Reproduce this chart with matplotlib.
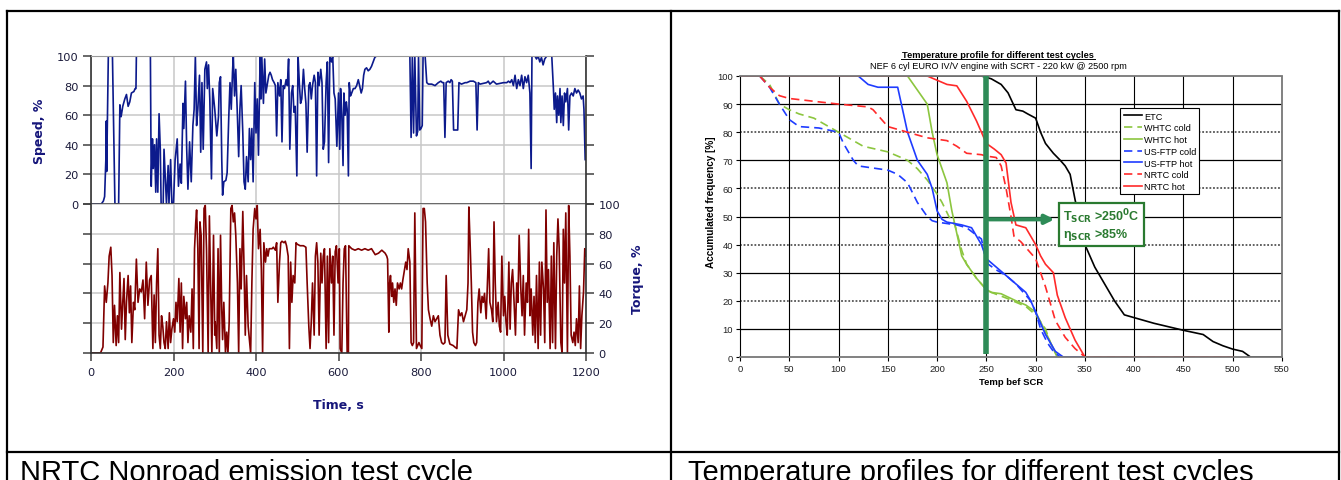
import matplotlib
matplotlib.use('Agg')
import matplotlib.pyplot as plt
from matplotlib.lines import Line2D

# ---- left chart: NRTC cycle, (time s, %) ----
SPEED_TRACE = [
    (0, 0), (25, 0), (30, 2), (33, 5), (36, 30), (37, 56), (38, 22), (40, 60), (42, 100), (52, 100),
    (58, 0), (67, 0), (70, 67), (73, 59), (77, 66), (82, 71), (86, 74), (90, 66), (94, 69), (98, 75),
    (104, 76), (107, 78), (109, 78), (110, 100), (144, 100), (146, 12), (149, 44), (151, 24), (154, 40),
    (157, 8), (159, 44), (162, 8), (165, 61), (168, 37), (170, 0), (175, 0), (177, 37), (180, 19), (183, 0),
    (187, 26), (189, 0), (193, 30), (196, 0), (200, 1), (204, 30), (209, 44), (212, 12), (216, 27), (219, 14),
    (223, 68), (225, 51), (229, 83), (232, 37), (235, 10), (239, 42), (243, 15), (247, 53), (250, 64),
    (253, 100), (256, 53), (259, 64), (263, 87), (266, 35), (269, 82), (272, 37), (276, 91), (280, 96),
    (282, 78), (285, 94), (288, 71), (292, 17), (295, 78), (300, 64), (305, 46), (309, 59), (311, 82),
    (314, 86), (317, 30), (319, 6), (322, 15), (327, 16), (330, 21), (334, 59), (337, 82), (340, 64),
    (343, 89), (345, 100), (348, 73), (351, 91), (355, 59), (358, 32), (361, 64), (364, 80), (368, 48),
    (371, 15), (374, 10), (377, 32), (381, 15), (384, 51), (387, 30), (390, 51), (393, 15), (397, 82),
    (400, 48), (403, 71), (406, 33), (410, 100), (412, 71), (414, 100), (418, 68), (421, 98), (424, 75),
    (427, 80), (431, 87), (434, 89), (437, 87), (440, 84), (444, 82), (447, 80), (450, 46), (453, 82),
    (457, 73), (460, 84), (463, 42), (466, 80), (469, 78), (473, 84), (476, 80), (479, 98), (482, 37),
    (486, 75), (489, 80), (492, 62), (495, 66), (499, 19), (502, 100), (505, 82), (508, 68), (511, 71),
    (515, 91), (518, 78), (521, 68), (524, 35), (528, 80), (531, 82), (534, 71), (537, 80), (541, 87),
    (544, 82), (547, 19), (550, 89), (553, 80), (557, 91), (560, 82), (563, 37), (566, 42), (570, 82),
    (573, 96), (576, 28), (579, 100), (583, 96), (586, 100), (589, 75), (592, 71), (596, 39), (600, 75),
    (603, 37), (605, 78), (608, 60), (611, 26), (613, 75), (616, 60), (619, 69), (621, 64), (624, 19),
    (626, 82), (629, 73), (632, 75), (636, 78), (640, 78), (644, 80), (648, 84), (651, 80), (655, 75),
    (658, 78), (661, 87), (664, 91), (668, 92), (672, 90), (676, 91), (680, 93), (684, 96), (688, 99),
    (692, 100), (773, 100), (776, 45), (779, 100), (782, 48), (785, 100), (789, 46), (792, 49), (794, 100),
    (797, 50), (800, 51), (803, 53), (805, 100), (810, 100), (814, 82), (818, 81), (826, 81), (834, 80),
    (842, 82), (848, 83), (852, 82), (855, 82), (858, 45), (861, 82), (866, 83), (870, 82), (873, 84),
    (876, 83), (879, 50), (889, 50), (892, 82), (898, 81), (907, 82), (911, 82), (919, 83), (927, 83),
    (933, 82), (936, 50), (939, 82), (943, 81), (959, 82), (963, 83), (967, 81), (975, 83), (983, 81),
    (1000, 82), (1008, 82), (1012, 83), (1016, 82), (1020, 84), (1024, 80), (1028, 87), (1032, 78),
    (1036, 84), (1040, 80), (1044, 87), (1048, 78), (1052, 86), (1056, 82), (1060, 87), (1064, 75),
    (1067, 24), (1069, 100), (1076, 100), (1080, 98), (1084, 100), (1088, 96), (1092, 99), (1096, 94),
    (1100, 98), (1105, 100), (1117, 100), (1121, 78), (1123, 64), (1126, 75), (1129, 55), (1131, 73),
    (1134, 60), (1137, 78), (1139, 55), (1142, 73), (1145, 53), (1148, 75), (1151, 69), (1155, 78),
    (1158, 50), (1161, 73), (1165, 75), (1169, 73), (1173, 78), (1177, 75), (1181, 77), (1185, 75),
    (1189, 71), (1193, 73), (1195, 64), (1198, 30),
]

TORQUE_TRACE = [
    (0, 0), (17, 0), (23, 0), (29, 4), (33, 45), (37, 34), (41, 47), (44, 65), (48, 71), (51, 52), (54, 7),
    (57, 32), (61, 5), (64, 25), (67, 7), (70, 54), (74, 16), (77, 34), (80, 50), (83, 9), (86, 34), (90, 52),
    (93, 27), (96, 45), (99, 7), (103, 34), (106, 29), (110, 63), (114, 34), (118, 43), (122, 41), (126, 49),
    (130, 23), (134, 61), (138, 32), (142, 49), (146, 52), (150, 3), (153, 39), (156, 7), (159, 47), (162, 70),
    (165, 12), (168, 3), (171, 25), (174, 18), (177, 7), (180, 3), (183, 21), (187, 3), (190, 27), (193, 7),
    (196, 16), (200, 23), (203, 14), (206, 34), (209, 21), (213, 50), (216, 14), (219, 47), (222, 3),
    (225, 38), (229, 23), (232, 34), (235, 7), (238, 25), (242, 14), (245, 43), (248, 3), (251, 70),
    (254, 88), (256, 96), (259, 70), (262, 3), (264, 88), (267, 79), (271, 0), (274, 97), (277, 99),
    (280, 70), (284, 0), (287, 92), (290, 47), (293, 0), (297, 79), (300, 12), (301, 21), (305, 3), (308, 70),
    (311, 0), (314, 79), (317, 29), (319, 9), (322, 34), (326, 0), (329, 14), (332, 0), (335, 21), (339, 97),
    (342, 99), (345, 88), (348, 94), (351, 79), (355, 47), (358, 0), (361, 70), (364, 43), (368, 95),
    (371, 58), (374, 12), (377, 52), (381, 18), (384, 9), (387, 0), (390, 47), (393, 83), (397, 97),
    (400, 90), (403, 99), (406, 70), (410, 83), (413, 56), (416, 0), (419, 74), (423, 61), (426, 70),
    (429, 65), (432, 70), (439, 70), (442, 71), (447, 69), (450, 74), (453, 34), (457, 61), (460, 74),
    (463, 75), (468, 74), (471, 75), (474, 72), (478, 65), (481, 3), (484, 61), (487, 34), (490, 52),
    (494, 47), (497, 74), (500, 73), (507, 72), (515, 72), (521, 71), (524, 47), (528, 18), (531, 3),
    (534, 21), (537, 47), (541, 12), (544, 65), (547, 74), (550, 61), (553, 12), (557, 67), (560, 47),
    (563, 65), (566, 70), (570, 3), (573, 65), (576, 7), (579, 70), (583, 47), (586, 65), (589, 12),
    (592, 68), (595, 72), (599, 47), (602, 70), (604, 3), (608, 0), (611, 47), (614, 70), (617, 72),
    (621, 0), (624, 0), (625, 72), (632, 70), (640, 69), (648, 70), (656, 69), (664, 70), (672, 69),
    (680, 70), (689, 66), (697, 67), (705, 69), (713, 67), (717, 65), (719, 63), (722, 14), (724, 47),
    (726, 52), (729, 38), (731, 47), (734, 34), (737, 43), (740, 32), (743, 47), (747, 43), (750, 47),
    (753, 43), (756, 49), (760, 56), (763, 61), (766, 56), (769, 70), (773, 61), (776, 7), (779, 5),
    (782, 7), (785, 94), (789, 3), (792, 5), (795, 7), (798, 5), (802, 3), (805, 97), (808, 97), (811, 88),
    (815, 47), (818, 29), (822, 23), (826, 18), (830, 25), (834, 21), (838, 23), (842, 25), (846, 12),
    (850, 7), (854, 6), (858, 7), (861, 52), (865, 12), (870, 6), (878, 5), (882, 4), (887, 3), (891, 29),
    (895, 25), (899, 27), (903, 21), (907, 25), (911, 29), (914, 47), (916, 98), (919, 74), (922, 47),
    (925, 14), (928, 7), (932, 5), (935, 7), (938, 34), (941, 43), (945, 27), (948, 38), (951, 34),
    (954, 40), (958, 23), (961, 47), (964, 70), (967, 34), (971, 29), (974, 21), (977, 88), (980, 47),
    (983, 21), (987, 34), (990, 18), (993, 14), (996, 65), (1000, 25), (1003, 38), (1006, 21), (1009, 12),
    (1013, 61), (1016, 16), (1019, 47), (1022, 56), (1025, 38), (1029, 12), (1032, 47), (1035, 34),
    (1038, 79), (1042, 43), (1045, 25), (1048, 52), (1051, 12), (1055, 47), (1058, 34), (1061, 83),
    (1064, 25), (1067, 43), (1071, 12), (1074, 38), (1077, 7), (1080, 52), (1084, 3), (1087, 61),
    (1090, 12), (1093, 61), (1097, 43), (1100, 7), (1103, 96), (1106, 34), (1109, 56), (1113, 3),
    (1116, 65), (1119, 7), (1122, 74), (1126, 3), (1129, 65), (1132, 90), (1135, 70), (1139, 7), (1142, 0),
    (1145, 83), (1148, 47), (1151, 94), (1155, 0), (1158, 99), (1161, 65), (1164, 12), (1168, 7),
    (1171, 14), (1174, 5), (1177, 23), (1181, 7), (1184, 45), (1187, 3), (1190, 25), (1194, 41),
    (1197, 70), (1200, 65),
]

# ---- right chart: accumulated frequency [%] vs temperature ----
ETC = [(0, 100), (245, 100), (255, 99), (265, 97), (272, 94), (280, 88), (287, 87.5), (292, 86.5),
       (300, 85), (305, 80), (310, 76), (318, 72.5), (325, 70), (330, 68), (335, 65), (340, 56), (345, 48),
       (350, 40), (355, 36), (360, 32), (370, 26), (380, 20), (390, 15), (400, 14), (420, 12), (450, 9.5),
       (470, 8), (480, 5.5), (490, 4), (500, 2.8), (510, 2), (518, 0), (550, 0)]
WHTC_COLD = [(20, 100), (30, 97), (40, 90), (50, 88), (60, 86.5), (75, 85), (90, 82), (100, 80),
             (110, 78), (125, 75), (150, 73), (170, 70), (180, 67), (190, 63), (200, 58), (205, 55),
             (212, 50), (218, 47), (225, 38), (230, 33), (240, 28), (250, 24), (255, 23), (270, 21),
             (290, 18), (300, 15), (310, 10), (315, 5), (322, 0)]
WHTC_HOT = [(0, 100), (170, 100), (180, 95), (190, 90), (195, 80), (200, 72), (210, 62), (215, 52),
            (220, 44), (225, 36), (230, 33), (240, 28), (250, 24), (255, 23), (265, 22.5), (280, 20),
            (290, 18.5), (300, 16), (310, 9), (318, 3), (322, 0)]
USFTP_COLD = [(20, 100), (30, 96), (40, 90), (50, 84.5), (60, 82), (80, 81.5), (100, 80), (105, 76),
              (115, 70), (120, 68), (140, 67), (150, 66.5), (160, 65), (170, 62), (180, 55), (190, 50),
              (195, 48.5), (200, 48), (210, 47.5), (220, 47), (230, 46), (245, 42), (248, 37), (252, 33),
              (260, 31), (270, 29), (280, 26), (290, 22), (295, 20), (300, 16), (305, 10), (312, 5),
              (318, 2), (325, 0)]
USFTP_HOT = [(0, 100), (120, 100), (130, 97), (140, 96), (160, 96), (165, 88), (170, 80), (175, 75),
             (180, 70), (190, 65), (195, 60), (200, 52), (205, 49), (210, 48), (225, 47), (235, 46),
             (245, 40), (250, 35), (260, 32), (270, 29), (280, 26), (290, 23), (295, 20), (300, 16),
             (305, 12), (310, 8), (315, 5), (320, 2), (328, 0), (350, 0)]
NRTC_COLD = [(20, 100), (30, 96), (40, 93), (50, 92), (100, 90), (130, 89), (135, 88), (145, 84),
             (150, 82), (170, 80), (190, 78), (200, 77.5), (210, 77), (220, 75), (230, 72.5), (245, 72),
             (250, 71.5), (260, 71), (265, 68), (270, 60), (275, 50), (278, 43), (285, 41), (300, 35),
             (305, 30), (310, 25), (315, 19), (320, 13), (330, 7), (340, 3), (350, 0), (500, 0)]
NRTC_HOT = [(0, 100), (190, 100), (200, 98.5), (210, 97), (220, 96.5), (230, 91), (240, 84), (250, 76),
            (258, 74), (265, 72), (270, 69), (275, 55), (280, 47), (290, 46), (300, 40), (305, 36),
            (310, 33), (318, 30), (322, 22), (330, 14), (340, 6), (350, 0), (500, 0)]

LIME = "#8cc63f"
BLUE = "#1f3cff"
RED = "#ff2a2a"
SERIES = [
    ("ETC", ETC, "black", "-"),
    ("WHTC cold", WHTC_COLD, LIME, "--"),
    ("WHTC hot", WHTC_HOT, LIME, "-"),
    ("US-FTP cold", USFTP_COLD, BLUE, "--"),
    ("US-FTP hot", USFTP_HOT, BLUE, "-"),
    ("NRTC cold", NRTC_COLD, RED, "--"),
    ("NRTC hot", NRTC_HOT, RED, "-"),
]

NAVY = "#16167a"
SPEED_COLOR = "#0c1a8c"
TORQUE_COLOR = "#800000"
SCR_GREEN = "#2e8b57"
W, H = 1341, 481


def fx(px):
    return px / W


def fy(py):
    return 1 - py / H


def draw_left(fig):
    t_s, v_s = zip(*SPEED_TRACE)
    t_q, v_q = zip(*TORQUE_TRACE)
    left, width = fx(91), (586 - 91) / W
    ax_s = fig.add_axes([left, fy(205), width, (205 - 57) / H])
    ax_q = fig.add_axes([left, fy(354), width, (354 - 205) / H])

    ax_s.plot(t_s, v_s, color=SPEED_COLOR, lw=1.2)
    ax_q.plot(t_q, v_q, color=TORQUE_COLOR, lw=1.2)

    for ax in (ax_s, ax_q):
        ax.set_xlim(0, 1200)
        ax.set_ylim(0, 100)
        ax.set_xticks(range(0, 1201, 200))
        ax.set_yticks(range(0, 101, 20))
        ax.grid(color="#c8c8c8", lw=1.1)
        ax.set_axisbelow(True)
        ax.tick_params(axis="y", direction="out", length=6, width=1.1, color="#404040",
                       left=True, right=True, labelsize=8.2, labelcolor="#1a1a3a", pad=3)
        for side in ("left", "right"):
            ax.spines[side].set_color("#333333")
            ax.spines[side].set_linewidth(1.2)

    ax_s.spines["top"].set_color("#999999")
    ax_s.spines["bottom"].set_color("#555555")
    ax_s.spines["bottom"].set_linewidth(1.2)
    ax_s.tick_params(axis="x", bottom=False, labelbottom=False)
    ax_s.tick_params(axis="y", labelleft=True, labelright=False)
    ax_s.set_ylabel("Speed, %", color=NAVY, fontsize=9, fontweight="bold", labelpad=8)

    ax_q.spines["top"].set_visible(False)
    ax_q.spines["bottom"].set_color("#333333")
    ax_q.spines["bottom"].set_linewidth(1.2)
    ax_q.tick_params(axis="y", labelleft=False, labelright=True)
    ax_q.tick_params(axis="x", direction="out", length=6, width=1.1, color="#404040",
                     labelsize=8.2, labelcolor="#1a1a3a", pad=4)
    ax_q.yaxis.set_label_position("right")
    ax_q.set_ylabel("Torque, %", color=NAVY, fontsize=9, fontweight="bold", labelpad=8)
    ax_q.set_xlabel("Time, s", color=NAVY, fontsize=9, fontweight="bold", labelpad=15)


def draw_right(fig):
    ax = fig.add_axes([fx(740), fy(358), (1282 - 740) / W, (358 - 77) / H])
    ax.set_xlim(0, 550)
    ax.set_ylim(0, 100)
    ax.set_xticks(range(0, 551, 50))
    ax.set_yticks(range(0, 101, 10))
    ax.tick_params(labelsize=6.8, length=3, width=0.8, pad=2, labelcolor="#222222")

    for x in range(50, 550, 50):
        ax.axvline(x, color="black", lw=0.8, zorder=0)
    for y in range(10, 100, 10):
        if y % 20:
            ax.axhline(y, color="black", lw=0.9, zorder=0)
        else:
            ax.axhline(y, color="#555555", lw=1.3, ls=(0, (1, 1)), zorder=0)
    for side in ("top", "right", "bottom"):
        ax.spines[side].set_color("#777777")
        ax.spines[side].set_linestyle((0, (1, 1)))
        ax.spines[side].set_linewidth(1.3)

    for label, pts, color, ls in SERIES:
        xs, ys = zip(*pts)
        ax.plot(xs, ys, color=color, ls=ls, lw=1.2, label=label,
                dashes=(5, 3) if ls == "--" else (None, None))

    ax.plot([250, 250], [1, 100], color=SCR_GREEN, lw=4, solid_capstyle="butt", zorder=5)
    ax.annotate("", xy=(322, 49), xytext=(250, 49),
                arrowprops=dict(arrowstyle="-|>", color=SCR_GREEN, lw=3, mutation_scale=13),
                zorder=5)
    ax.text(328, 47.2, r"T$_{\mathbf{SCR}}$ >250$^{\mathbf{0}}$C" + "\n" + r"η$_{\mathbf{SCR}}$ >85%",
            color="#2a7a30", fontsize=9, fontweight="bold", va="center", ha="left",
            linespacing=1.05, zorder=6,
            bbox=dict(boxstyle="square,pad=0.35", fc="white", ec="#2a7a30", lw=1.6))

    leg = ax.legend(loc="upper left", bbox_to_anchor=(0.702, 0.885), fontsize=6.6,
                    frameon=True, fancybox=False, edgecolor="black", framealpha=1,
                    handlelength=2.0, handletextpad=0.2, labelspacing=0.3, borderpad=0.35,
                    borderaxespad=0)
    leg.get_frame().set_linewidth(0.8)

    ax.set_xlabel("Temp bef SCR", fontsize=6.8, fontweight="bold", labelpad=3)
    ax.set_ylabel("Accumulated frequency [%]", fontsize=7.2, fontweight="bold")
    ax.yaxis.set_label_coords(-0.045, 0.555)

    fig.text(fx(998), fy(55), "Temperature profile for different test cycles", ha="center",
             va="center", fontsize=6.7, fontweight="bold")
    fig.add_artist(Line2D([fx(901), fx(1095)], [fy(60), fy(60)], color="black", lw=0.7))
    fig.text(fx(998), fy(66.5), "NEF 6 cyl EURO IV/V engine with SCRT - 220 kW @ 2500 rpm",
             ha="center", va="center", fontsize=6.6)


def draw_table(fig):
    lines = [
        ([7, 1339], [12, 12]),
        ([7, 7], [12, 481]),
        ([1339, 1339], [12, 481]),
        ([671, 671], [12, 481]),
        ([7, 1339], [453, 453]),
    ]
    for xs, ys in lines:
        fig.add_artist(Line2D([fx(v) for v in xs], [fy(v) for v in ys], color="black", lw=1.6))
    fig.text(fx(20), fy(459), "NRTC Nonroad emission test cycle", fontsize=21,
             family="Liberation Sans", va="top")
    fig.text(fx(688), fy(459), "Temperature profiles for different test cycles", fontsize=21,
             family="Liberation Sans", va="top")


def main():
    plt.rcParams["font.family"] = ["DejaVu Sans"]
    plt.rcParams["mathtext.fontset"] = "dejavusans"
    fig = plt.figure(figsize=(W / 100, H / 100), dpi=100)
    draw_left(fig)
    plt.rcParams["font.family"] = ["Liberation Sans", "DejaVu Sans"]
    draw_right(fig)
    draw_table(fig)
    fig.savefig("out.png", dpi=100)
    plt.close(fig)


if __name__ == "__main__":
    main()
